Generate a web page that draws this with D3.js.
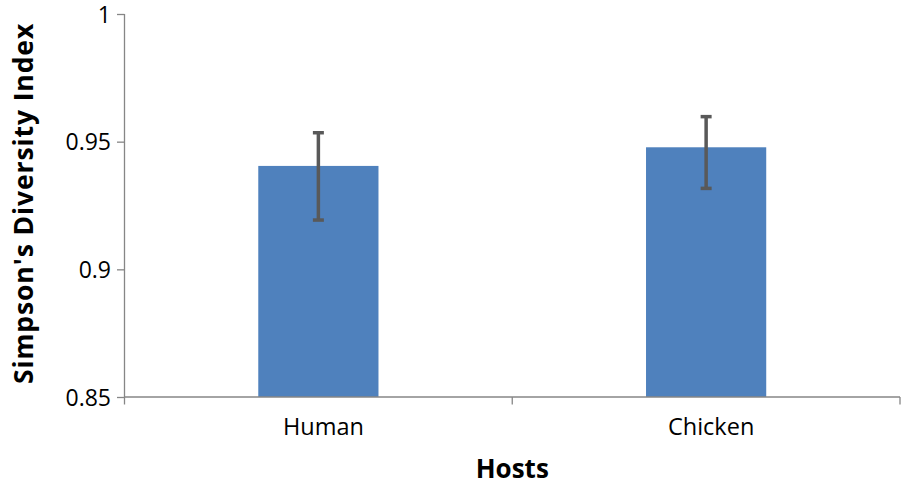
<!DOCTYPE html>
<html lang="en">
<head>
<meta charset="utf-8">
<title>Simpson's Diversity Index</title>
<script src="https://cdn.jsdelivr.net/npm/d3@7"></script>
<style>
  body { margin: 0; background: #fff; }
  text { font-family: "Open Sans", "Noto Sans", sans-serif; fill: #000; }
</style>
</head>
<body>
<div id="chart"></div>
<script>
// data
var hosts = ["Human", "Chicken"];
var simpson = [0.9405, 0.9478];
var errUpper = [0.9535, 0.9598];
var errLower = [0.9193, 0.9317];
var yTicks = [0.85, 0.9, 0.95, 1];

var width = 903, height = 487;
var margin = {top: 14, right: 3, bottom: 90, left: 124.5};
var w = width - margin.left - margin.right,
    h = height - margin.top - margin.bottom;

var svg = d3.select("#chart").append("svg")
    .attr("width", width)
    .attr("height", height);

var g = svg.append("g")
    .attr("transform", "translate(" + margin.left + "," + margin.top + ")");

var x = d3.scaleBand()
    .domain(hosts)
    .range([0, w])
    .paddingInner(0.69)
    .paddingOuter(0.345);

var y = d3.scaleLinear()
    .domain([0.85, 1])
    .range([h, 0]);

// bars
g.selectAll("rect.bar")
    .data(simpson)
    .enter().append("rect")
    .attr("class", "bar")
    .attr("x", function(d, i) { return x(hosts[i]); })
    .attr("y", function(d) { return y(d); })
    .attr("width", x.bandwidth())
    .attr("height", function(d) { return h - y(d); })
    .attr("fill", "#4f81bd");

// error bars
var errCol = "#595959";
hosts.forEach(function(k, i) {
  var cx = x(k) + x.bandwidth() / 2;
  g.append("line")
    .attr("x1", cx).attr("x2", cx)
    .attr("y1", y(errUpper[i])).attr("y2", y(errLower[i]))
    .attr("stroke", errCol).attr("stroke-width", 3.5);
  [errUpper[i], errLower[i]].forEach(function(v) {
    g.append("line")
      .attr("x1", cx - 5.5).attr("x2", cx + 5.5)
      .attr("y1", y(v)).attr("y2", y(v))
      .attr("stroke", errCol).attr("stroke-width", 3.5);
  });
});

var axisCol = "#868686";

// y axis
var yAxis = g.append("g")
    .call(d3.axisLeft(y).tickValues(yTicks).tickSize(7.5).tickPadding(6)
      .tickFormat(function(d) { return String(+d.toFixed(2)); }));
yAxis.select(".domain").attr("stroke", axisCol).attr("stroke-width", 1.3).attr("d", "M0," + h + "V0");
yAxis.selectAll(".tick line").attr("stroke", axisCol).attr("stroke-width", 1.3);
yAxis.selectAll(".tick text")
    .style("font-size", "23px")
    .attr("fill", "#000")
    .attr("dy", "0.36em");

// x axis: line along the bottom with ticks between categories
var xAxis = g.append("g").attr("transform", "translate(0," + h + ")");
xAxis.append("line")
    .attr("x1", 0).attr("x2", w)
    .attr("stroke", axisCol).attr("stroke-width", 1.3);
var bounds = [0].concat(hosts.map(function(k) { return x(k) + x.bandwidth() / 2 + x.step() / 2; }));
xAxis.selectAll("line.tk")
    .data(bounds)
    .enter().append("line")
    .attr("class", "tk")
    .attr("x1", function(d) { return d; })
    .attr("x2", function(d) { return d; })
    .attr("y1", 0).attr("y2", 7.5)
    .attr("stroke", axisCol).attr("stroke-width", 1.3);
xAxis.selectAll("text.cat")
    .data(hosts)
    .enter().append("text")
    .attr("class", "cat")
    .attr("x", function(d) { return x(d) + x.bandwidth() / 2 + 5; })
    .attr("y", 38)
    .attr("text-anchor", "middle")
    .style("font-size", "23.5px")
    .text(function(d) { return d; });

// axis titles
svg.append("text")
    .attr("x", margin.left + w / 2)
    .attr("y", 478)
    .attr("text-anchor", "middle")
    .style("font-size", "26px")
    .style("font-weight", "bold")
    .text("Hosts");

svg.append("text")
    .attr("transform", "translate(33," + (margin.top + h / 2 - 2) + ") rotate(-90)")
    .attr("text-anchor", "middle")
    .style("font-size", "26.5px")
    .style("font-weight", "bold")
    .style("letter-spacing", "0.9px")
    .text("Simpson's Diversity Index");
</script>
</body>
</html>
